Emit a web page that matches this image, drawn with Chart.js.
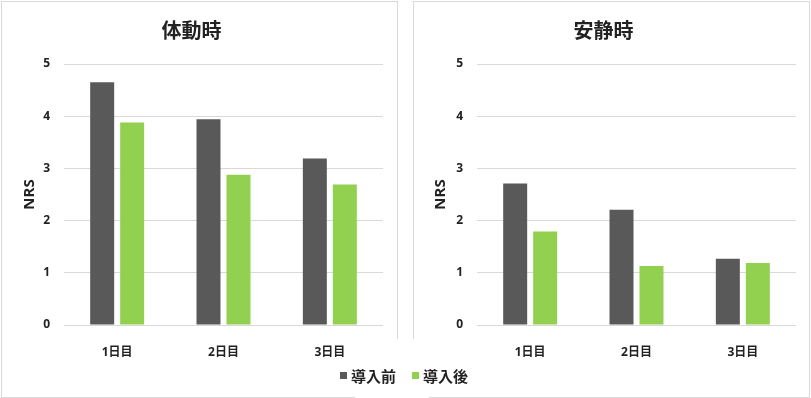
<!DOCTYPE html>
<html lang="ja">
<head>
<meta charset="utf-8">
<title>NRS 体動時・安静時</title>
<script src="https://cdn.jsdelivr.net/npm/chart.js@4/dist/chart.umd.min.js"></script>
<style>
  html, body { margin: 0; padding: 0; background: #fff; }
  body { position: relative; width: 811px; height: 398px; overflow: hidden; }
  .panel { position: absolute; top: 1px; border: 1px solid #d9d9d9; box-sizing: border-box; height: 397px; }
  #panelL { left: 1px; width: 397px; }
  #panelR { left: 413px; width: 397px; }
  canvas { position: absolute; top: 0; }
  #chartL { left: 0; }
  #chartR { left: 411px; }
  #legendBg { position: absolute; left: 355px; top: 339px; width: 74px; height: 59px; background: #fff; }
  #legend { position: absolute; left: 340px; top: 364px; height: 22px; display: flex; align-items: center;
            font: bold 15px "Noto Sans CJK JP", sans-serif; color: #222; }
  .item { display: flex; align-items: center; margin-right: 16px; }
  .box { width: 7px; height: 7px; margin-right: 4px; }
</style>
</head>
<body>
<div class="panel" id="panelL"></div>
<div class="panel" id="panelR"></div>
<canvas id="chartL" width="398" height="398"></canvas>
<canvas id="chartR" width="400" height="398"></canvas>
<div id="legendBg"></div>
<div id="legend"></div>

<script>
// ===============================
// Datos
// ===============================
const categorias = ['1日目', '2日目', '3日目'];
const series = ['導入前', '導入後'];

const taidouMae = [4.65, 3.94, 3.19];   // 体動時 導入前
const taidouGo = [3.88, 2.88, 2.69];    // 体動時 導入後
const anseiMae = [2.71, 2.21, 1.27];    // 安静時 導入前
const anseiGo = [1.79, 1.13, 1.19];     // 安静時 導入後

const yMin = 0;
const yMax = 5;
const yStep = 1;

// ===============================
// Estilos
// ===============================
const colores = ['#595959', '#92d050'];
const tickFont = { family: "'Open Sans', 'Noto Sans CJK JP', sans-serif", size: 12, weight: 'bold' };
const textColor = '#222';

// ===============================
// Función: crear un gráfico de barras
// ===============================
function crearGrafico(id, titulo, valores, anchoEjeY) {
  const ctx = document.getElementById(id).getContext('2d');
  return new Chart(ctx, {
    type: 'bar',
    data: {
      labels: categorias,
      datasets: valores.map((v, i) => ({
        label: series[i],
        data: v,
        backgroundColor: colores[i],
        categoryPercentage: 0.564,
        barPercentage: 0.8
      }))
    },
    options: {
      responsive: false,
      devicePixelRatio: 1,
      animation: false,
      layout: { padding: { left: 0, right: 15, top: 0, bottom: 0 } },
      plugins: {
        legend: { display: false },
        tooltip: { enabled: false },
        title: {
          display: true,
          text: titulo,
          color: textColor,
          font: { family: "'Noto Sans CJK JP', sans-serif", size: 20, weight: 'bold' },
          padding: { top: 18, bottom: 22 }
        }
      },
      scales: {
        x: {
          grid: { display: false },
          border: { display: false },
          ticks: { color: textColor, font: tickFont, padding: 12 },
          afterFit: function (scale) { scale.height = 73; }
        },
        y: {
          min: yMin,
          max: yMax,
          grid: { color: '#d9d9d9', drawTicks: false },
          border: { display: false },
          ticks: { stepSize: yStep, color: textColor, font: tickFont, padding: 14 },
          title: {
            display: true,
            text: 'NRS',
            color: textColor,
            font: { family: "'Open Sans', sans-serif", size: 15, weight: 'bold' },
            padding: { top: 21, bottom: 0 }
          },
          afterFit: function (scale) { scale.width = anchoEjeY; }
        }
      }
    }
  });
}

// ===============================
// Leyenda común
// ===============================
function crearLeyenda() {
  const cont = document.getElementById('legend');
  series.forEach((nombre, i) => {
    const item = document.createElement('div');
    item.className = 'item';
    const box = document.createElement('span');
    box.className = 'box';
    box.style.background = colores[i];
    const txt = document.createElement('span');
    txt.textContent = nombre;
    item.appendChild(box);
    item.appendChild(txt);
    cont.appendChild(item);
  });
}

crearGrafico('chartL', '体動時', [taidouMae, taidouGo], 64);
crearGrafico('chartR', '安静時', [anseiMae, anseiGo], 66);
crearLeyenda();
</script>
</body>
</html>
